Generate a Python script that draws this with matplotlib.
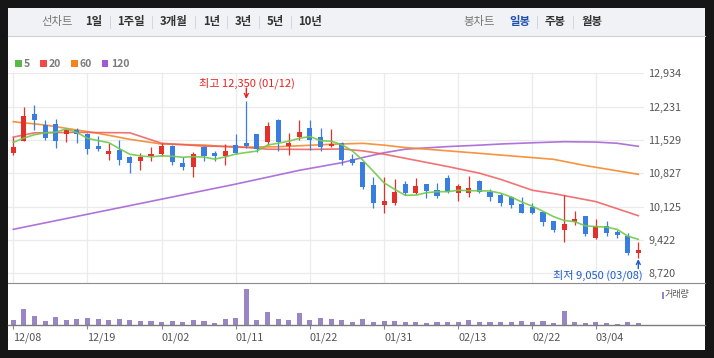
import matplotlib
matplotlib.use("Agg")
import matplotlib.pyplot as plt
from matplotlib.patches import Rectangle
from matplotlib.lines import Line2D
from matplotlib.ticker import FuncFormatter

plt.rcParams['font.family'] = ['Noto Sans CJK KR', 'DejaVu Sans']

W, H = 714, 358

# daily candles 12/08 .. 03/08 (60 sessions)
opens = [11260, 11510, 12080, 11850, 11870, 11650, 11740, 11660, 11400, 11230,
         11320, 11170, 11090, 11200, 11230, 11400, 11040, 10950, 11380, 11250,
         11190, 11420, 11470, 11660, 11490, 11950, 11400, 11590, 11780, 11590,
         11400, 11470, 11130, 11060, 10580, 10160, 10200, 10600, 10410, 10600,
         10480, 10730, 10410, 10410, 10670, 10430, 10370, 10330, 10180, 10120,
         10010, 9820, 9630, 9800, 9930, 9460, 9720, 9590, 9510, 9150]
highs = [11590, 12220, 12270, 11950, 11970, 11760, 11780, 11670, 11610, 11460,
         11530, 11190, 11260, 11380, 11460, 11420, 11170, 11280, 11400, 11300,
         11450, 11660, 12350, 11660, 11910, 11970, 11680, 11950, 11950, 11780,
         11760, 11490, 11230, 11060, 10750, 10750, 10710, 10670, 10730, 10600,
         10620, 10790, 10600, 10770, 10690, 10500, 10410, 10350, 10330, 10200,
         10010, 9820, 10370, 10030, 9930, 9860, 9820, 9630, 9570, 9380]
lows = [11220, 11500, 11740, 11530, 11370, 11490, 11470, 11240, 11300, 11110,
        11000, 10840, 10900, 11090, 11190, 11000, 10900, 10750, 11090, 11090,
        11000, 11230, 11360, 11280, 11420, 11300, 11210, 11530, 11320, 11300,
        11390, 11000, 11000, 10500, 10100, 9990, 10160, 10370, 10390, 10310,
        10310, 10410, 10240, 10330, 10410, 10240, 10140, 10100, 9990, 9970,
        9720, 9590, 9380, 9740, 9510, 9440, 9510, 9460, 9110, 9050]
closes = [11380, 12030, 11960, 11580, 11510, 11740, 11650, 11340, 11340, 11300,
          11110, 11050, 11170, 11240, 11400, 11070, 10950, 11230, 11190, 11190,
          11300, 11250, 11400, 11340, 11820, 11490, 11470, 11700, 11530, 11380,
          11440, 11110, 11040, 10540, 10200, 10240, 10430, 10410, 10560, 10450,
          10350, 10430, 10560, 10520, 10430, 10330, 10200, 10160, 9990, 9990,
          9800, 9630, 9760, 9860, 9550, 9720, 9570, 9530, 9150, 9210]
volumes = [50, 160, 90, 40, 80, 50, 60, 70, 60, 50,
           60, 50, 40, 40, 30, 40, 30, 50, 40, 20,
           60, 70, 360, 50, 130, 60, 50, 120, 50, 70,
           60, 50, 30, 60, 30, 40, 40, 30, 30, 20,
           30, 30, 30, 50, 30, 30, 30, 30, 40, 30,
           40, 20, 140, 30, 20, 30, 20, 10, 30, 20]

# moving averages
ma5 = [11480, 11570, 11640, 11680, 11692, 11764, 11688, 11564, 11516, 11474,
       11348, 11228, 11194, 11174, 11194, 11186, 11166, 11178, 11168, 11126,
       11172, 11232, 11266, 11296, 11422, 11460, 11504, 11564, 11602, 11514,
       11504, 11432, 11300, 11102, 10866, 10626, 10490, 10364, 10368, 10418,
       10440, 10440, 10470, 10462, 10458, 10454, 10408, 10328, 10222, 10134,
       10028, 9914, 9834, 9808, 9720, 9704, 9692, 9646, 9504, 9436]
ma20_pos = [0, 2, 6, 11, 14, 18, 21, 24, 28, 31, 33, 35, 38, 41, 44, 46, 49, 51, 55, 59]
ma20 = [11590, 11680, 11690, 11680, 11460, 11400, 11390, 11335, 11330, 11340,
        11300, 11230, 11100, 10970, 10830, 10700, 10470, 10400, 10230, 9934]
ma60_pos = [0, 3, 5, 8, 11, 14, 18, 21, 25, 30, 33, 35, 37, 40, 44, 51, 54, 59]
ma60 = [11914, 11845, 11775, 11670, 11543, 11444, 11423, 11375, 11387, 11438,
        11459, 11420, 11370, 11318, 11248, 11122, 10990, 10806]
ma120_pos = [0, 21, 27, 31, 33, 35, 37, 41, 44, 46, 49, 52, 55, 57, 59]
ma120 = [9647, 10600, 10890, 11050, 11160, 11260, 11335, 11390, 11420, 11444,
         11470, 11493, 11485, 11460, 11396]

price_ticks = [8720, 9422, 10125, 10827, 11529, 12231, 12934]
date_labels = ['12/08', '12/19', '01/02', '01/11', '01/22', '01/31', '02/13', '02/22', '03/04']
date_pos = [0, 7, 14, 21, 28, 35, 42, 49, 55]

RED = '#e2302b'
BLUE = '#3a7de0'
VOL = '#9a86c5'


def fx(x):
    return x / W


def fy(y):
    return 1 - y / H


fig = plt.figure(figsize=(W / 100, H / 100), dpi=100)
fig.patch.set_facecolor('#161616')

# white card and top toolbar
fig.patches.append(Rectangle((fx(8), fy(350)), fx(697), 342 / H, transform=fig.transFigure,
                             facecolor='white', edgecolor='none', zorder=-3))
fig.patches.append(Rectangle((fx(8), fy(36)), fx(697), 28 / H, transform=fig.transFigure,
                             facecolor='#f1f2f6', edgecolor='none', zorder=-2))
fig.lines.append(Line2D([fx(8), fx(705)], [fy(36), fy(36)], transform=fig.transFigure,
                        color='#d0d1d6', lw=0.8))

toolbar = [('선차트', 56.7, '#777777', 'normal'), ('1일', 93.3, '#333333', 'bold'),
           ('1주일', 131, '#333333', 'bold'), ('3개월', 173.5, '#333333', 'bold'),
           ('1년', 211.7, '#333333', 'bold'), ('3년', 243, '#333333', 'bold'),
           ('5년', 275, '#333333', 'bold'), ('10년', 309.7, '#333333', 'bold'),
           ('봉차트', 479.5, '#777777', 'normal'), ('일봉', 519.5, '#1f4fae', 'bold'),
           ('주봉', 555.5, '#333333', 'bold'), ('월봉', 591.7, '#333333', 'bold')]
for label, cx, col, wt in toolbar:
    fig.text(fx(cx), fy(21.7), label, ha='center', va='center', fontsize=8.2,
             color=col, fontweight=wt)
for sx in [110, 151.7, 195, 227.3, 259, 290.7, 536.7, 573.3]:
    fig.lines.append(Line2D([fx(sx), fx(sx)], [fy(16), fy(28)], transform=fig.transFigure,
                            color='#d6d6d8', lw=0.7))

# legend
legend_items = [('5', '#58b947', 15), ('20', '#ef4b4b', 40), ('60', '#f5841f', 71), ('120', '#a259d1', 101.7)]
for label, col, lx in legend_items:
    fig.patches.append(Rectangle((fx(lx), fy(66.7)), fx(6.5), 6.5 / H, transform=fig.transFigure,
                                 facecolor=col, edgecolor='none'))
    fig.text(fx(lx + 9), fy(63.7), label, ha='left', va='center', fontsize=7.5,
             color='#7c7c7c', fontweight='bold')

# price panel
ax = fig.add_axes([fx(8), fy(283), fx(635.6), (283 - 73.3) / H])
ax.set_facecolor('none')
x = list(range(len(closes)))
up = [c >= o for o, c in zip(opens, closes)]
cols = [RED if u else BLUE for u in up]

ax.vlines(x, lows, highs, colors=cols, lw=0.9, zorder=3)
bottoms = [min(o, c) for o, c in zip(opens, closes)]
heights = [max(abs(c - o), 18) for o, c in zip(opens, closes)]
ax.bar(x, heights, bottom=bottoms, width=0.48, color=cols, zorder=4)

ax.plot(ma120_pos, ma120, color='#a765d6', lw=1.2, alpha=0.9, zorder=2)
ax.plot(ma60_pos, ma60, color='#f5882a', lw=1.2, alpha=0.9, zorder=2)
ax.plot(ma20_pos, ma20, color='#f05a5a', lw=1.2, alpha=0.85, zorder=2)
ax.plot(x, ma5, color='#72c94a', lw=1.2, alpha=0.9, zorder=5)

ax.set_xlim(-0.5, len(closes) - 0.5)
ax.set_ylim(8516, 12934)
ax.set_yticks(price_ticks)
ax.yaxis.tick_right()
ax.yaxis.set_major_formatter(FuncFormatter(lambda v, p: f'{int(round(v)):,}'))
ax.tick_params(axis='y', length=0, pad=3.3, labelsize=7.8, labelcolor='#555555')
ax.set_xticks(date_pos)
ax.tick_params(axis='x', length=0, labelbottom=False)
ax.grid(True, color='#ebebeb', lw=0.9)
ax.set_axisbelow(True)
for s in ax.spines.values():
    s.set_visible(False)

# high / low markers
hi = highs.index(max(highs))
lo = lows.index(min(lows))
ax.annotate(f'최고 {highs[hi]:,} (01/12)', xy=(hi, highs[hi]), xytext=(1, 18),
            textcoords='offset pixels', ha='center', va='center', color='#e8231f',
            fontsize=8, annotation_clip=False)
ax.annotate('', xy=(hi, highs[hi]), xytext=(0, 13), textcoords='offset pixels',
            arrowprops=dict(arrowstyle='->', color='#e8231f', lw=1, shrinkA=0, shrinkB=1.5,
                            mutation_scale=7), annotation_clip=False)
ax.annotate(f'최저 {lows[lo]:,} (03/08)', xy=(lo, lows[lo]), xytext=(4, -17.5),
            textcoords='offset pixels', ha='right', va='center', color='#1d5cc9',
            fontsize=8, annotation_clip=False)
ax.annotate('', xy=(lo, lows[lo]), xytext=(0, -11), textcoords='offset pixels',
            arrowprops=dict(arrowstyle='->', color='#1d5cc9', lw=1, shrinkA=0, shrinkB=1,
                            mutation_scale=7), annotation_clip=False)

# volume panel
vax = fig.add_axes([fx(8), fy(325), fx(635.6), 42 / H])
vax.set_facecolor('none')
vax.bar(x, volumes, width=0.48, color=VOL)
vax.set_xlim(-0.5, len(closes) - 0.5)
vax.set_ylim(0, 420)
vax.set_yticks([])
vax.set_xticks(date_pos)
vax.set_xticklabels(date_labels, ha='left')
vax.tick_params(axis='x', direction='out', length=3, width=0.8, color='#888888',
                pad=2.5, labelsize=7.8, labelcolor='#555555')
for s in vax.spines.values():
    s.set_visible(False)

fig.lines.append(Line2D([fx(8), fx(705)], [fy(283), fy(283)], transform=fig.transFigure,
                        color='#8c8c8c', lw=0.8))
fig.lines.append(Line2D([fx(8), fx(705)], [fy(325), fy(325)], transform=fig.transFigure,
                        color='#7c7c7c', lw=1.0))
fig.patches.append(Rectangle((fx(661.5), fy(298.5)), fx(2.2), 7 / H, transform=fig.transFigure,
                             facecolor=VOL, edgecolor='none'))
fig.text(fx(665), fy(295), '거래량', ha='left', va='center', fontsize=6.5, color='#555555')

fig.savefig('out.png', dpi=100, facecolor=fig.get_facecolor())
